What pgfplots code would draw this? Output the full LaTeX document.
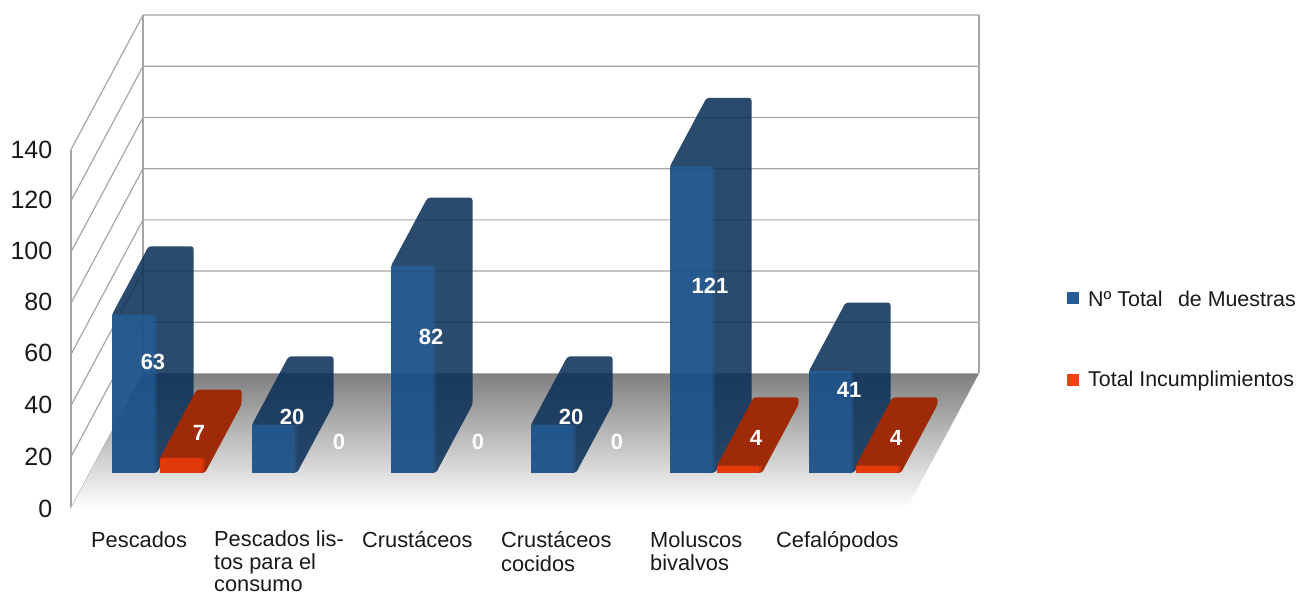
\documentclass[border=0pt]{standalone}
\usepackage{fontspec}
\setmainfont{Liberation Sans}
\usepackage{pgfplots}
\pgfplotsset{compat=1.18}

\definecolor{gridgray}{RGB}{166,166,166}
\definecolor{blueside}{RGB}{11,48,89}
\definecolor{bluelight}{RGB}{39,108,176}
\definecolor{redfront}{RGB}{226,58,10}
\definecolor{redside}{RGB}{158,42,8}
\definecolor{swatchblue}{RGB}{37,92,150}
\definecolor{swatchred}{RGB}{250,64,16}

% One oblique block: #1,#2 left and right edge, #3 value, #4 body colour, #5 front colour,
% #6 body opacity, #7 front opacity. The body is one outline; the front face lies over it,
% with a fainter strip along its right edge to soften the corner.
\newcommand{\blockbar}[7]{%
  \addplot3[draw=none,fill=#4,fill opacity=#6,rounded corners=2.5pt,forget plot]
    coordinates {(#1,.239,1.2)(#2,.239,1.2)(#2,.746,1.2)(#2,.746,#3)(#1,.746,#3)(#1,.239,#3)(#1,.239,1.2)};
  \addplot3[draw=none,fill=#5,fill opacity=#7,rounded corners=2pt,forget plot]
    coordinates {(#1,.239,1.2)(#2-2.5,.239,1.2)(#2-2.5,.239,#3)(#1,.239,#3)(#1,.239,1.2)};
  \addplot3[draw=none,fill=#5,fill opacity=#7*0.5,forget plot]
    coordinates {(#2-2.5,.239,1.6)(#2,.239,1.6)(#2,.239,#3)(#2-2.5,.239,#3)(#2-2.5,.239,1.6)};
}

\begin{document}
\begin{tikzpicture}
\begin{axis}[
  anchor=origin, at={(0pt,0pt)},
  x={(1pt,0pt)}, y={(72pt,134.5pt)}, z={(0pt,2.56pt)},
  xmin=0, xmax=907, ymin=0, ymax=1, zmin=0, zmax=140,
  hide axis, clip=false,
]
  % Walls and gridlines
  \pgfplotsinvokeforeach{20,40,...,140}{
    \addplot3[gridgray,line width=1.2pt,forget plot]
      coordinates {(71,0,#1)(71,1,#1)(907,1,#1)};
  }
  \addplot3[gridgray,line width=1.2pt,forget plot] coordinates {(71,0,0)(71,0,140)};
  \addplot3[gridgray,line width=1.2pt,forget plot] coordinates {(71,1,0)(71,1,140)};
  \addplot3[gridgray,line width=1.2pt,forget plot] coordinates {(907,1,0)(907,1,140)};
  \addplot3[gridgray,line width=1pt,forget plot] coordinates {(71,0,0)(71,1,0)};
  % Floor
  \addplot3[draw=none,top color=black!50,bottom color=white,forget plot]
    coordinates {(71,0,0)(907,0,0)(907,1,0)(71,1,0)(71,0,0)};

  % Pescados
  \blockbar{94.8}{139.8}{63}{blueside}{bluelight}{.875}{.5}
  \blockbar{142.8}{187.8}{7}{redside}{redfront}{1}{1}
  % Pescados listos para el consumo
  \blockbar{234.8}{279.8}{20}{blueside}{bluelight}{.875}{.5}
  % Crustáceos
  \blockbar{373.8}{418.8}{82}{blueside}{bluelight}{.875}{.5}
  % Crustáceos cocidos
  \blockbar{513.8}{558.8}{20}{blueside}{bluelight}{.875}{.5}
  % Moluscos bivalvos
  \blockbar{652.8}{697.8}{121}{blueside}{bluelight}{.875}{.5}
  \blockbar{699.8}{744.8}{4}{redside}{redfront}{1}{1}
  % Cefalópodos
  \blockbar{791.8}{836.8}{41}{blueside}{bluelight}{.875}{.5}
  \blockbar{838.8}{883.8}{4}{redside}{redfront}{1}{1}
\end{axis}

\pgfresetboundingbox
\path (0pt,-88pt) rectangle (1298pt,508pt);

% Text is placed in a frame whose units run right and down from the top-left corner
\begin{scope}[x=1pt,y=-1pt,yshift=508pt]
  % Vertical scale
  \foreach \v/\py in {0/508.5,20/456.5,40/404.5,60/353,80/302,100/251,120/200,140/149.5}
    \node[anchor=east,inner sep=0pt,font=\fontsize{25}{30}\selectfont,text=black!90] at (52.5,\py) {\v};

  % Category names
  \begin{scope}[every node/.style={anchor=north west,inner sep=0pt,align=left,
      font=\fontsize{21.8}{23.5}\selectfont,text=black!90}]
    \node at (91,531.5) {Pescados};
    \node[font=\fontsize{21.8}{22.5}\selectfont] at (214,531) {Pescados lis-\\tos para el\\consumo};
    \node at (362,531.5) {Crustáceos};
    \node at (501,531.5) {Crustáceos\\cocidos};
    \node at (650,531.5) {Moluscos\\bivalvos};
    \node at (776,531.5) {Cefalópodos};
  \end{scope}

  % Value labels
  \begin{scope}[every node/.style={inner sep=0pt,text=white,
      font=\fontsize{22}{24}\bfseries\selectfont}]
    \node at (153,362) {63};
    \node at (199,433) {7};
    \node at (292,417) {20};
    \node at (339,442) {0};
    \node at (431,337) {82};
    \node at (478,442) {0};
    \node at (571,417) {20};
    \node at (617,442) {0};
    \node at (710,286) {121};
    \node at (756,438) {4};
    \node at (849,390) {41};
    \node at (896,438) {4};
  \end{scope}

  % Key
  \fill[swatchblue] (1067,292) rectangle (1079,304);
  \fill[swatchred] (1067,374) rectangle (1079,386);
  \begin{scope}[every node/.style={anchor=west,inner sep=0pt,
      font=\fontsize{21.4}{24}\selectfont,text=black!90}]
    \node at (1088,299) {Nº Total\hspace{0.72em}de Muestras};
    \node at (1088,381) {Total Incumplimientos};
  \end{scope}
\end{scope}
\end{tikzpicture}
\end{document}
